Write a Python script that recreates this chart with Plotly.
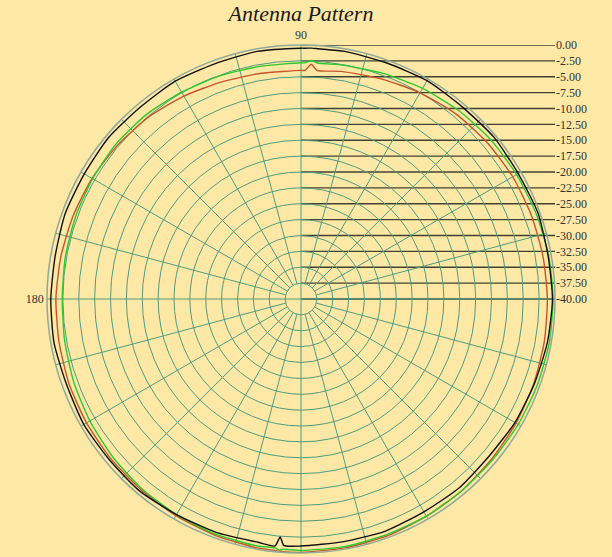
import plotly.graph_objects as go

# ---------------- data ----------------
THETA = [0, 10, 20, 30, 40, 50, 60, 70, 80, 86, 87.5, 89, 90, 100, 110, 120, 130, 140,
         150, 160, 170, 180, 190, 200, 210, 220, 230, 240, 250, 260, 264, 265, 266,
         270, 280, 290, 300, 310, 320, 330, 340, 350, 360]

BLACK = [-0.4, -0.5, -0.3, -0.5, -0.35, -0.5, -0.3, -0.45, -0.4, -0.5, -0.45, -0.5, -0.5,
         -0.4, -0.55, -0.4, -0.6, -0.45, -0.6, -0.5, -0.7, -0.6, -0.5, -0.7, -0.5, -0.6,
         -0.5, -0.8, -0.9, -1.1, -0.9, -2.4, -1.1, -1.1, -1.2, -1.1, -1.3, -1.2, -1.4,
         -1.1, -0.9, -0.6, -0.4]

GREEN = [-0.3, -0.4, -0.6, -0.8, -1.0, -1.3, -1.7, -2.2, -2.6, -2.75, -2.4, -2.8, -2.8,
         -2.8, -2.6, -2.4, -2.1, -2.0, -2.1, -2.2, -2.3, -2.4, -2.2, -1.9, -1.6, -1.3,
         -1.0, -0.8, -0.6, -0.5, -0.6, -0.35, -0.5, -0.4, -0.4, -0.5, -0.5, -0.6, -0.6,
         -0.5, -0.4, -0.3, -0.3]

RED = [-1.2, -1.3, -1.4, -1.5, -1.7, -2.0, -2.5, -3.1, -3.6, -3.9, -3.0, -4.0, -4.0,
       -3.9, -3.6, -3.1, -2.6, -2.3, -2.0, -1.8, -1.6, -1.4, -1.3, -1.1, -1.0, -0.9,
       -0.8, -0.6, -0.4, -0.2, -0.2, -0.15, -0.1, -0.1, -0.2, -0.3, -0.5, -0.6, -0.8,
       -0.9, -1.0, -1.1, -1.2]

R_MIN, R_MAX, R_STEP = -40.0, 0.0, 2.5
RADIAL_TICKS = [0.0, -2.5, -5.0, -7.5, -10.0, -12.5, -15.0, -17.5, -20.0, -22.5,
                -25.0, -27.5, -30.0, -32.5, -35.0, -37.5, -40.0]
RADIAL_LABELS = ["%.2f" % v for v in RADIAL_TICKS]
ANG_TICKS = list(range(0, 360, 15))
ANG_LABELS = {90: "90", 180: "180"}

# ---------------- layout geometry ----------------
W, H = 612, 557
CX, CY, RAD = 301, 299, 254          # centre / radius in pixels (from top-left)
dom_x = [(CX - RAD) / W, (CX + RAD) / W]
dom_y = [(H - CY - RAD) / H, (H - CY + RAD) / H]

BG = "#FEE8A6"
GRID = "#4F9C80"
FONT = "Liberation Serif"

fig = go.Figure()

# horizontal "ruler" lines for the radial tick labels (cartesian overlay)
xs, ys = [], []
for v in RADIAL_TICKS:
    xs += [0, 1, None]
    ys += [v, v, None]
fig.add_trace(go.Scatter(x=xs, y=ys, mode="lines", xaxis="x", yaxis="y",
                         line=dict(color="#404030", width=1.3),
                         hoverinfo="skip", showlegend=False))

# angular spokes: main axes through the centre, others from the first ring outward
sr, st = [], []
for a in ANG_TICKS:
    r0 = R_MIN if a % 90 == 0 else R_MIN + R_STEP
    sr += [r0, R_MAX, None]
    st += [a, a, None]
fig.add_trace(go.Scatterpolar(r=sr, theta=st, mode="lines",
                              line=dict(color=GRID, width=1),
                              hoverinfo="skip", showlegend=False))

LINE = dict(width=1.4, shape="spline", smoothing=0.6)
fig.add_trace(go.Scatterpolar(r=RED, theta=THETA, mode="lines",
                              line=dict(color="#C4562A", **LINE), showlegend=False))
fig.add_trace(go.Scatterpolar(r=GREEN, theta=THETA, mode="lines",
                              line=dict(color="#2FC82F", **LINE), showlegend=False))
fig.add_trace(go.Scatterpolar(r=BLACK, theta=THETA, mode="lines",
                              line=dict(color="#111111", **LINE), showlegend=False))

fig.update_layout(
    width=W, height=H,
    margin=dict(l=0, r=0, t=0, b=0),
    paper_bgcolor=BG, plot_bgcolor="rgba(0,0,0,0)",
    showlegend=False,
    title=dict(text="<i>Antenna Pattern</i>", x=CX / W, xanchor="center",
               y=1 - 13 / H, yanchor="middle",
               font=dict(family=FONT, size=22, color="#1a1a1a")),
    polar=dict(
        domain=dict(x=dom_x, y=dom_y),
        bgcolor="rgba(0,0,0,0)",
        radialaxis=dict(range=[R_MIN, R_MAX], dtick=R_STEP, tick0=R_MIN,
                        showticklabels=False, ticks="", showline=False,
                        gridcolor=GRID, gridwidth=1),
        angularaxis=dict(rotation=0, direction="counterclockwise",
                         tickmode="array", tickvals=ANG_TICKS,
                         ticktext=[ANG_LABELS.get(a, "") for a in ANG_TICKS],
                         ticks="", showline=True, linecolor="#8FA89A", linewidth=1.5,
                         showgrid=False,
                         tickfont=dict(family=FONT, size=12, color="#333333")),
    ),
    xaxis=dict(domain=dom_x, range=[-1, 1], visible=False, fixedrange=True),
    yaxis=dict(domain=dom_y, range=[R_MIN - (R_MAX - R_MIN), R_MAX], side="right",
               anchor="x", tickmode="array", tickvals=RADIAL_TICKS,
               ticktext=RADIAL_LABELS, ticks="", showgrid=False, zeroline=False,
               showline=False, automargin=False,
               tickfont=dict(family=FONT, size=12, color="#333333")),
)

fig.write_html("out.html", config={"displayModeBar": False},
               post_script="document.body.style.margin='0';"
                           "document.body.style.overflow='hidden';")
